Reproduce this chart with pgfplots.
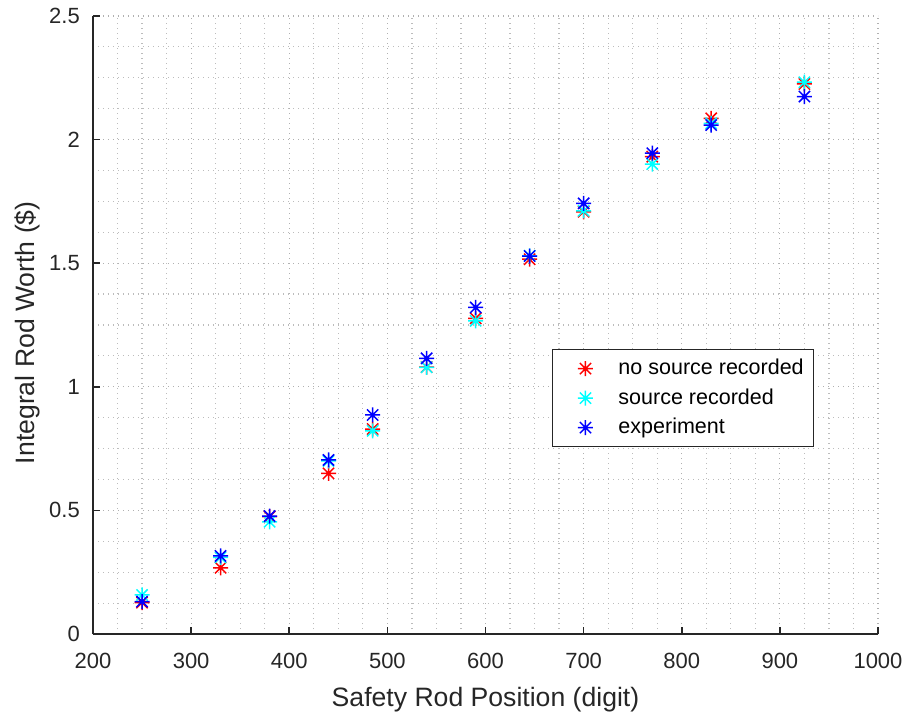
\documentclass[border=0pt]{standalone}
\usepackage{fontspec}
\setmainfont{Liberation Sans}
\usepackage{pgfplots}
\pgfplotsset{compat=1.18}
\definecolor{axgray}{HTML}{262626}
\definecolor{gridgray}{HTML}{B0B0B0}
\definecolor{mred}{rgb}{1,0,0}
\definecolor{mcyan}{rgb}{0,1,1}
\definecolor{mblue}{rgb}{0,0,1}
\pgfdeclareplotmark{mstar}{%
  \pgfpathmoveto{\pgfqpoint{0pt}{\pgfplotmarksize}}%
  \pgfpathlineto{\pgfqpoint{0pt}{-\pgfplotmarksize}}%
  \pgfpathmoveto{\pgfqpoint{\pgfplotmarksize}{0pt}}%
  \pgfpathlineto{\pgfqpoint{-\pgfplotmarksize}{0pt}}%
  \pgfpathmoveto{\pgfqpoint{0.75\pgfplotmarksize}{0.75\pgfplotmarksize}}%
  \pgfpathlineto{\pgfqpoint{-0.75\pgfplotmarksize}{-0.75\pgfplotmarksize}}%
  \pgfpathmoveto{\pgfqpoint{0.75\pgfplotmarksize}{-0.75\pgfplotmarksize}}%
  \pgfpathlineto{\pgfqpoint{-0.75\pgfplotmarksize}{0.75\pgfplotmarksize}}%
  \pgfusepathqstroke}
\begin{document}
\begin{tikzpicture}
\useasboundingbox (-93bp,-80bp) rectangle (814bp,634bp);
\begin{axis}[
  at={(0bp,0bp)}, anchor=south west,
  scale only axis, width=785bp, height=618bp,
  xmin=200, xmax=1000, ymin=0, ymax=2.5,
  xtick={200,300,400,500,600,700,800,900,1000},
  ytick={0,0.5,1,1.5,2,2.5},
  yticklabels={0,0.5,1,1.5,2,2.5},
  minor x tick num=3, minor y tick num=3,
  grid=both,
  major grid style={gridgray, line width=1.2bp, dash pattern=on 1.2bp off 3.8bp},
  minor grid style={gridgray!85, line width=1.2bp, dash pattern=on 1.2bp off 3.8bp},
  axis x line=bottom, axis y line=left,
  axis line style={-, axgray, line width=1.6bp},
  major tick style={axgray, line width=1.6bp},
  major tick length=7bp, minor tick length=0pt,
  tick align=inside,
  /pgf/number format/1000 sep={},
  /pgf/number format/assume math mode=true,
  tick label style={font=\fontsize{22bp}{26bp}\selectfont, text=axgray, inner sep=0pt},
  xticklabel style={anchor=base, yshift=-34.3bp},
  yticklabel style={anchor=east, xshift=-13bp},
  xlabel={Safety Rod Position (digit)},
  ylabel={Integral Rod Worth (\$)},
  label style={font=\fontsize{26.6bp}{30bp}\selectfont, text=axgray, inner sep=0pt},
  xlabel style={at={(axis description cs:0.5,0)}, anchor=base, yshift=-72.7bp},
  ylabel style={at={(axis description cs:-0.0841,0.4875)}, anchor=center},
  every axis plot/.append style={only marks, mark=mstar, mark size=7.5bp, line width=1.5bp},
  every axis plot post/.append style={legend image code/.code={%
      \path[draw=none, fill=none] (0bp,0bp) -- (56.3bp,0bp);
      \draw[##1, only marks] plot coordinates {(23.3bp,0bp)};}},
  legend style={at={(0.5843,0.4607)}, anchor=north west, draw=axgray, line width=1bp,
    fill=white, inner xsep=10bp, inner ysep=7.8bp, row sep=7.5bp,
    font=\fontsize{21.5bp}{25bp}\selectfont,
    nodes={inner sep=0pt, text height=17bp, text depth=5bp}},
  legend cell align=left,
]
\addplot[color=mred] coordinates {
(250,0.127) (330,0.268) (380,0.475) (440,0.650) (485,0.829) (540,1.080)
(590,1.277) (645,1.516) (700,1.708) (770,1.931) (830,2.086) (925,2.225)};
\addlegendentry{no source recorded}
\addplot[color=mcyan] coordinates {
(250,0.158) (330,0.310) (380,0.454) (440,0.700) (485,0.822) (540,1.079)
(590,1.267) (645,1.530) (700,1.712) (770,1.901) (830,2.066) (925,2.232)};
\addlegendentry{source recorded}
\addplot[color=mblue] coordinates {
(250,0.131) (330,0.316) (380,0.477) (440,0.704) (485,0.886) (540,1.115)
(590,1.321) (645,1.529) (700,1.742) (770,1.945) (830,2.059) (925,2.174)};
\addlegendentry{experiment}
\end{axis}
\end{tikzpicture}
\end{document}
